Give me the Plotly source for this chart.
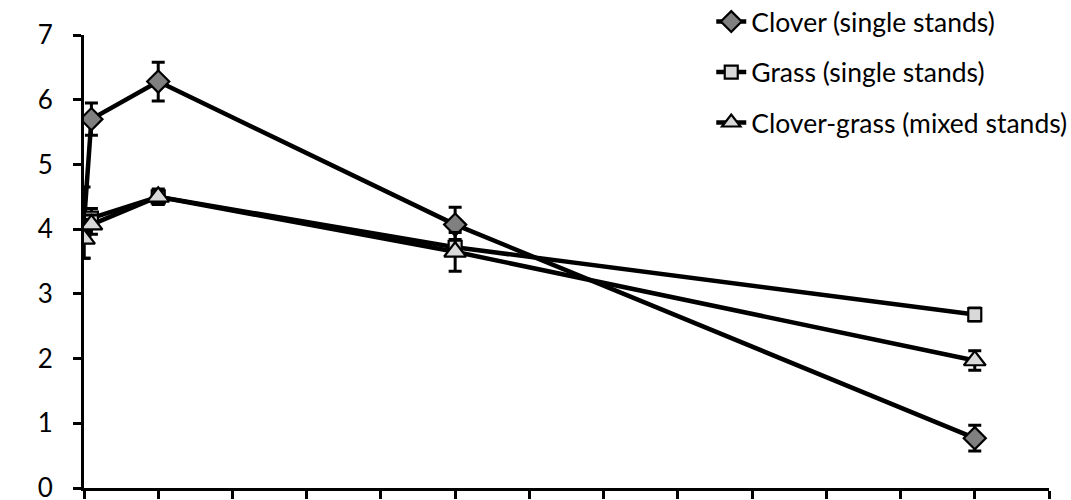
import plotly.graph_objects as go

days = [0, 1, 10, 50, 120]

clover = [4.10, 5.70, 6.28, 4.07, 0.77]
clover_err = [0.55, 0.25, 0.30, 0.27, 0.20]

grass = [4.00, 4.17, 4.50, 3.72, 2.68]
grass_err = [0.10, 0.15, 0.12, 0.12, 0.10]

mixed = [3.85, 4.07, 4.50, 3.65, 1.97]
mixed_err = [0.30, 0.15, 0.10, 0.30, 0.15]

names = ["Clover (single stands)", "Grass (single stands)", "Clover-grass (mixed stands)"]

FONT = "Lato, Carlito, Calibri, sans-serif"

fig = go.Figure()

specs = [
    (clover, clover_err, names[0], "diamond", "#808080", 17),
    (grass, grass_err, names[1], "square", "#d9d9d9", 13),
    (mixed, mixed_err, names[2], "triangle-up", "#d9d9d9", 19),
]

for i, (vals, errs, name, sym, fill, size) in enumerate(specs):
    fig.add_trace(go.Scatter(
        x=days, y=vals, name=name, mode="lines+markers",
        legendgroup=f"g{i}",
        line=dict(color="black", width=4.5),
        marker=dict(symbol=sym, size=size, color=fill,
                    line=dict(color="black", width=2.2)),
        error_y=dict(type="data", array=errs, visible=True,
                     color="black", thickness=3, width=6.5),
    ))

fig.update_layout(
    width=1071, height=500,
    margin=dict(l=84, r=22, t=35, b=12, autoexpand=False),
    paper_bgcolor="white", plot_bgcolor="white",
    font=dict(family=FONT, size=27, color="black"),
    showlegend=True,
    legend=dict(x=0.650, y=1.082, xanchor="left", yanchor="top",
                bgcolor="rgba(0,0,0,0)", tracegroupgap=13,
                font=dict(family=FONT, size=26.5, color="black")),
)

fig.update_xaxes(
    range=[0, 130], tick0=0, dtick=10, showticklabels=False,
    showgrid=False, zeroline=False,
    showline=True, linecolor="black", linewidth=3,
    ticks="outside", ticklen=8, tickwidth=2.5, tickcolor="black",
)
fig.update_yaxes(
    range=[0, 7], tick0=0, dtick=1,
    showgrid=False, zeroline=False,
    showline=True, linecolor="black", linewidth=3,
    ticks="outside", ticklen=8, tickwidth=2.5, tickcolor="black",
    ticklabelstandoff=15, ticklabeloverflow="allow",
    tickfont=dict(family=FONT, size=26, color="black"),
)

fig.write_html(
    "out.html",
    config={"displayModeBar": False},
    post_script="document.body.style.margin='0';document.body.style.overflow='hidden';",
)
